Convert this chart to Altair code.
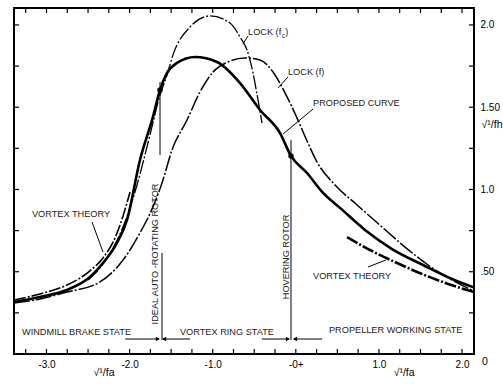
import altair as alt
import pandas as pd

# ---------------- data ----------------
# Proposed curve (solid)
prop_x = [-3.39, -3.079, -2.754, -2.477, -2.320, -2.152, -2.031, -1.875, -1.719, -1.634, -1.550,
          -1.430, -1.213, -0.948, -0.671, -0.431, -0.190, -0.058, 0.135, 0.328, 0.532, 0.833,
          1.158, 1.531, 1.880, 2.14]
prop_y = [0.316, 0.347, 0.389, 0.468, 0.553, 0.675, 0.815, 1.179, 1.441, 1.605, 1.708,
          1.769, 1.805, 1.775, 1.647, 1.483, 1.343, 1.204, 1.100, 0.979, 0.888, 0.754,
          0.638, 0.541, 0.456, 0.405]
# Lock (f)
lockf_x = [-3.39, -3.078, -2.801, -2.356, -2.079, -1.875, -1.719, -1.598, -1.490, -1.309, -1.153,
           -0.996, -0.816, -0.611, -0.431, -0.274, -0.130, 0.014, 0.135, 0.255, 0.472, 0.737,
           1.037, 1.314, 1.591, 1.880, 2.14]
lockf_y = [0.310, 0.334, 0.371, 0.438, 0.571, 0.736, 0.894, 1.058, 1.240, 1.422, 1.593,
           1.714, 1.775, 1.799, 1.787, 1.714, 1.587, 1.435, 1.295, 1.167, 1.027, 0.906,
           0.772, 0.650, 0.541, 0.450, 0.383]
# Lock (fc)
lockfc_x = [-2.499, -2.356, -2.212, -2.056, -1.911, -1.755, -1.634, -1.550, -1.478, -1.273,
            -1.032, -0.792, -0.671, -0.587, -0.515, -0.455, -0.407]
lockfc_y = [0.450, 0.523, 0.632, 0.802, 1.027, 1.331, 1.574, 1.696, 1.818, 1.988,
            2.055, 2.012, 1.927, 1.848, 1.708, 1.544, 1.404]
# Vortex theory, windmill brake branch and propeller working branch
vtl_x = [-3.39, -3.078, -2.754, -2.477, -2.320, -2.176, -2.079, -1.995]
vtl_y = [0.328, 0.365, 0.419, 0.505, 0.584, 0.705, 0.839, 0.985]
vtr_x = [0.616, 0.893, 1.193, 1.519, 1.832, 2.14]
vtr_y = [0.711, 0.632, 0.559, 0.486, 0.426, 0.377]

# axis ticks and labels
x_label_vals = [-3, -2, -1, 0, 1, 2]
y_label_vals = [0.5, 1.0, 1.5, 2.0]
x_minor = [-3.25 + 0.25 * i for i in range(22)]
y_minor = [0.25 * i for i in range(1, 9)]

# annotations
ann_text = ["LOCK (f", "c", ")", "LOCK (f)", "PROPOSED CURVE", "VORTEX THEORY", "VORTEX THEORY",
            "WINDMILL BRAKE STATE", "VORTEX RING STATE", "PROPELLER WORKING STATE"]
ann_x = [-0.575, -0.170, -0.128, -0.094, 0.207, -3.175, 0.207, -3.295, -1.394, 0.399]
ann_y = [1.957, 1.930, 1.957, 1.714, 1.526, 0.851, 0.474, 0.134, 0.134, 0.146]
ann_size = [9.2, 6.5, 9.2, 9.2, 9.2, 9.2, 9.2, 9.2, 9.2, 9.2]

rot_text = ["IDEAL AUTO -ROTATING ROTOR", "HOVERING ROTOR"]
rot_x = [-1.690, -0.118]
rot_y = [0.608, 0.590]

# pointer / marker segments
seg_x = [-0.575, -0.094, 0.207, -2.452, 0.868, -1.634, -1.610, -0.058, -2.054, -1.598, -0.407, -0.022]
seg_x2 = [-0.635, -0.214, -0.154, -2.320, 1.085, -1.634, -1.610, -0.058, -1.646, -1.273, -0.082, 0.315]
seg_y = [1.933, 1.684, 1.489, 0.802, 0.529, 1.653, 0.614, 1.301, 0.091, 0.091, 0.091, 0.091]
seg_y2 = [1.885, 1.617, 1.337, 0.620, 0.571, 1.210, 0.085, 0.085, 0.091, 0.091, 0.091, 0.091]

arrow_x = [-1.66, -1.585, -0.095, -0.01]
arrow_y = [0.091, 0.091, 0.091, 0.091]
arrow_shape = ["triangle-right", "triangle-left", "triangle-right", "triangle-left"]

dot_x = [-1.634, -0.058]
dot_y = [1.605, 1.204]

outer_text = ["√¹/fa", "√¹/fa", "√¹/fh", "0"]
outer_x = [-2.308, 1.303, 2.361, 2.276]
outer_y = [-0.1155, -0.1155, 1.392, -0.049]

# ---------------- chart ----------------
W, H = 460, 346
FONT = "Liberation Sans"
xs = alt.Scale(domain=[-3.391, 2.144], nice=False, zero=False)
ys = alt.Scale(domain=[0, 2.103], nice=False, zero=False)

x_axis = alt.Axis(values=x_label_vals, title=None, grid=False, domain=False, tickSize=0,
                  labelExpr="datum.value == 0 ? '-0+' : replace(format(datum.value, '.1f'), '\u2212', '-')",
                  labelFont=FONT, labelFontSize=10, labelPadding=5, labelColor="black")
y_axis = alt.Axis(values=y_label_vals, orient="right", title=None, grid=False, domain=False, tickSize=0,
                  labelExpr="datum.value == 2 ? '2.0' : datum.value == 1.5 ? '1.50' : datum.value == 1 ? '1.0' : '.50'",
                  labelFont=FONT, labelFontSize=10, labelPadding=6, labelAlign="left", labelColor="black")


def X(f):
    return alt.X(f, type="quantitative", scale=xs, axis=x_axis)


def Y(f):
    return alt.Y(f, type="quantitative", scale=ys, axis=y_axis)


def curve(xv, yv, width, dash=None):
    df = pd.DataFrame({"x": xv, "y": yv, "i": list(range(len(xv)))})
    kw = dict(color="black", strokeWidth=width, interpolate="monotone", strokeCap="butt")
    if dash:
        kw["strokeDash"] = dash
    return alt.Chart(df).mark_line(**kw).encode(x=X("x"), y=Y("y"), order="i:Q")


layers = []
layers.append(curve(lockfc_x, lockfc_y, 1.3, [14, 2, 2, 2]))
layers.append(curve(lockf_x, lockf_y, 1.5, [16, 2, 2, 2]))
layers.append(curve(vtl_x, vtl_y, 1.6, [12, 2, 2, 2]))
layers.append(curve(vtr_x, vtr_y, 2.6, [12, 2, 2, 2]))
layers.append(curve(prop_x, prop_y, 2.6))

seg_df = pd.DataFrame({"x": seg_x, "x2": seg_x2, "y": seg_y, "y2": seg_y2})
layers.append(alt.Chart(seg_df).mark_rule(color="black", strokeWidth=1).encode(
    x=X("x"), x2="x2", y=Y("y"), y2="y2"))

dot_df = pd.DataFrame({"x": dot_x, "y": dot_y})
layers.append(alt.Chart(dot_df).mark_point(filled=True, color="black", size=30, opacity=1).encode(
    x=X("x"), y=Y("y")))

arr_df = pd.DataFrame({"x": arrow_x, "y": arrow_y, "s": arrow_shape})
layers.append(alt.Chart(arr_df).mark_point(filled=True, color="black", size=22, opacity=1).encode(
    x=X("x"), y=Y("y"), shape=alt.Shape("s:N", scale=None, legend=None)))

ann_df = pd.DataFrame({"t": ann_text, "x": ann_x, "y": ann_y, "s": ann_size})
layers.append(alt.Chart(ann_df).mark_text(align="left", baseline="middle", font=FONT, color="#1a1a1a").encode(
    x=X("x"), y=Y("y"), text="t:N", size=alt.Size("s:Q", scale=None, legend=None)))

rot_df = pd.DataFrame({"t": rot_text, "x": rot_x, "y": rot_y})
layers.append(alt.Chart(rot_df).mark_text(align="center", baseline="middle", angle=270, font=FONT,
                                          fontSize=9.2, color="#1a1a1a").encode(
    x=X("x"), y=Y("y"), text="t:N"))

out_df = pd.DataFrame({"t": outer_text, "x": outer_x, "y": outer_y})
layers.append(alt.Chart(out_df).mark_text(align="center", baseline="middle", font=FONT,
                                          fontSize=10.5, color="black").encode(
    x=X("x"), y=Y("y"), text="t:N"))

# inward ticks on all four sides
xt_df = pd.DataFrame({"v": x_minor})
yt_df = pd.DataFrame({"v": y_minor})
layers.append(alt.Chart(xt_df).mark_rule(color="black", strokeWidth=1.2).encode(
    x=X("v"), y=alt.value(H), y2=alt.value(H - 5)))
layers.append(alt.Chart(xt_df).mark_rule(color="black", strokeWidth=1.2).encode(
    x=X("v"), y=alt.value(0), y2=alt.value(5)))
layers.append(alt.Chart(yt_df).mark_rule(color="black", strokeWidth=1.2).encode(
    y=Y("v"), x=alt.value(0), x2=alt.value(5)))
layers.append(alt.Chart(yt_df).mark_rule(color="black", strokeWidth=1.2).encode(
    y=Y("v"), x=alt.value(W), x2=alt.value(W - 5)))

chart = alt.layer(*layers).properties(
    width=W, height=H,
    autosize=alt.AutoSizeParams(type="none"),
    padding={"left": 14, "top": 8, "right": 29, "bottom": 30},
    background="white",
).configure_view(stroke="black", strokeWidth=2)

chart.save("out.html", embed_options={"renderer": "svg", "actions": False})
